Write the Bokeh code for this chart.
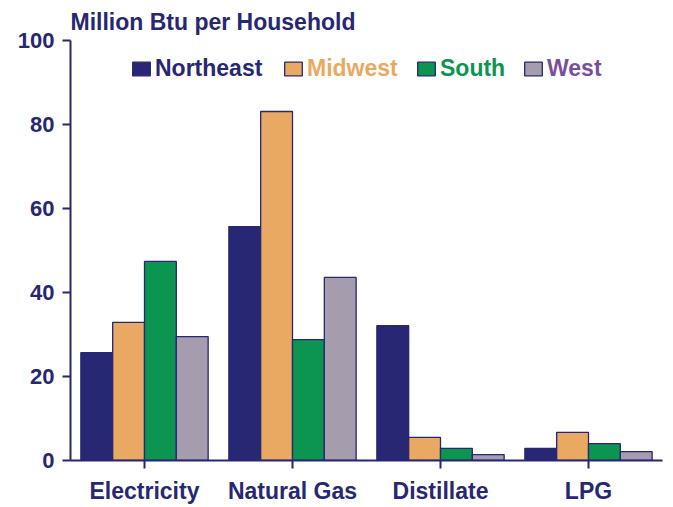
from bokeh.plotting import figure
from bokeh.models import ColumnDataSource, FactorRange, Range1d, Legend, LegendItem, FixedTicker
from bokeh.transform import dodge
from bokeh.embed import file_html
from bokeh.resources import INLINE

categories = ["Electricity", "Natural Gas", "Distillate", "LPG"]
regions = ["Northeast", "Midwest", "South", "West"]
northeast = [25.7, 55.7, 32.1, 2.9]
midwest = [32.9, 83.1, 5.5, 6.7]
south = [47.4, 28.8, 2.9, 4.0]
west = [29.5, 43.6, 1.4, 2.1]
y_ticks = [0, 20, 40, 60, 80, 100]

bar_colors = ["#272774", "#E9A962", "#0B9550", "#A59CAE"]
text_colors = ["#272774", "#E9A962", "#0B9550", "#7A4E9E"]
NAVY = "#272774"
FONT = "Liberation Sans"

src = ColumnDataSource(dict(cat=categories, Northeast=northeast, Midwest=midwest, South=south, West=west))

p = figure(x_range=FactorRange(factors=categories, range_padding=0), y_range=Range1d(0, 100),
           frame_width=592, frame_height=420, width=665, height=499,
           output_backend="svg", toolbar_location=None,
           min_border_left=70, min_border_right=3, min_border_top=40, min_border_bottom=10)

p.title.text = "Million Btu per Household"
p.title.text_font = FONT
p.title.text_font_size = "23px"
p.title.text_color = NAVY
p.title.align = "left"
p.title.offset = 0
p.title.standoff = 11

p.outline_line_color = None
p.xgrid.visible = False
p.ygrid.visible = False

w = 0.215
offsets = [-1.5 * w, -0.5 * w, 0.5 * w, 1.5 * w]
renderers = []
for r, off, c in zip(regions, offsets, bar_colors):
    rr = p.vbar(x=dodge("cat", off, range=p.x_range), top=r, width=w, source=src,
                fill_color=c, line_color=NAVY, line_width=1.3)
    renderers.append(rr)

for ax in (p.xaxis[0], p.yaxis[0]):
    ax.axis_line_color = NAVY
    ax.axis_line_width = 2
    ax.major_tick_line_color = NAVY
    ax.major_tick_line_width = 2
    ax.major_tick_out = 8
    ax.major_tick_in = 0
    ax.minor_tick_line_color = None
    ax.major_label_text_font = FONT
    ax.major_label_text_font_style = "bold"
    ax.major_label_text_color = NAVY

p.yaxis[0].ticker = FixedTicker(ticks=y_ticks)
p.yaxis[0].major_label_text_font_size = "22px"
p.yaxis[0].major_label_standoff = 8
p.xaxis[0].major_label_text_font_size = "23px"
p.xaxis[0].major_label_standoff = 9

leg_x = [60, 212, 345, 452]
for r, rr, tc, lx in zip(regions, renderers, text_colors, leg_x):
    leg = Legend(items=[LegendItem(label=r, renderers=[rr])], location=(lx, 378),
                 orientation="horizontal", padding=0, margin=0, spacing=0,
                 glyph_width=22, glyph_height=17, label_height=20, label_standoff=3,
                 label_text_font=FONT, label_text_font_style="bold", label_text_font_size="23px",
                 label_text_color=tc, border_line_color=None, background_fill_alpha=0)
    p.add_layout(leg)

open("out.html", "w").write(file_html(p, INLINE))
